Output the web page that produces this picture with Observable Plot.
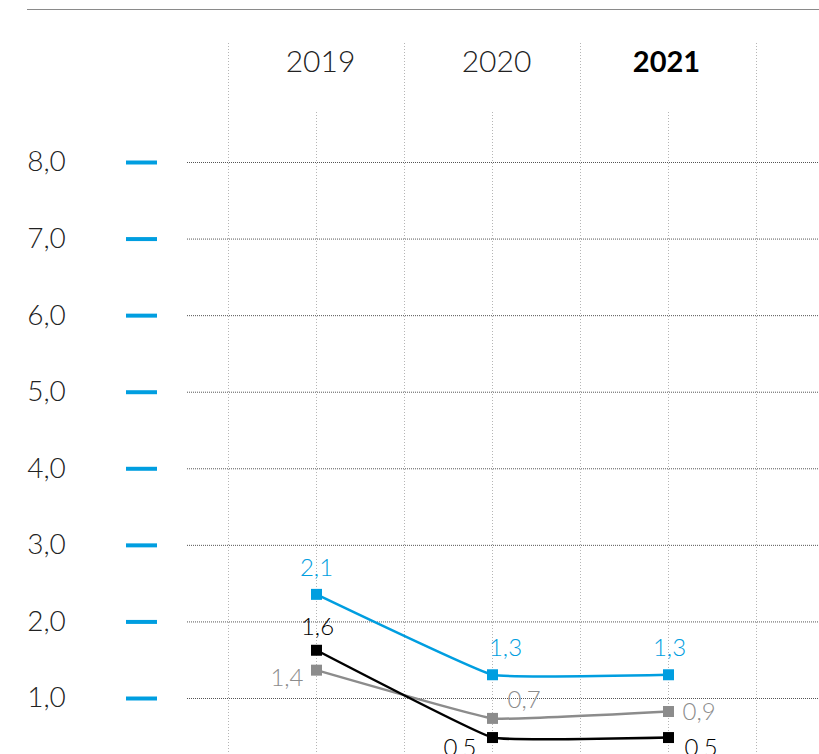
<!DOCTYPE html>
<html>
<head>
<meta charset="utf-8">
<script src="https://cdn.jsdelivr.net/npm/d3@7"></script>
<script src="https://cdn.jsdelivr.net/npm/@observablehq/plot@0.6"></script>
<style>
  body { margin: 0; background: #fff; }
  #wrap { position: relative; width: 819px; height: 754px; overflow: hidden; }
  #topline { position: absolute; left: 27px; right: 0; top: 9px; border-top: 1.5px solid #8a8a8a; }
  svg { font-family: "Lato", "Open Sans", sans-serif; font-weight: 300; }
</style>
</head>
<body>
<div id="wrap"><div id="topline"></div></div>
<script>
// Data
const years = [2019, 2020, 2021];
const boldYear = 2021;
const yTicks = [1, 2, 3, 4, 5, 6, 7, 8];
const seriesNames = ["blue", "gray", "black"];
// values as plotted in the reference
const blueValues = [2.36, 1.31, 1.31];
const grayValues = [1.37, 0.74, 0.83];
const blackValues = [1.63, 0.49, 0.49];
// labels as printed
const blueLabels = ["2,1", "1,3", "1,3"];
const grayLabels = ["1,4", "0,7", "0,9"];
const blackLabels = ["1,6", "0,5", "0,5"];

const colors = {blue: "#009ee0", gray: "#8c8c8c", black: "#000000"};
const valuesBy = {blue: blueValues, gray: grayValues, black: blackValues};
const labelsBy = {blue: blueLabels, gray: grayLabels, black: blackLabels};

const rows = seriesNames.flatMap(s => years.map((y, i) => ({
  series: s, year: y, value: valuesBy[s][i], label: labelsBy[s][i], i
})));

// label placements per series/point: [textAnchor, dx, dy]
const place = {
  blue:  [["middle", 0, -26], ["middle", 13, -26], ["middle", 1, -26]],
  gray:  [["end", -13, 8], ["start", 15, -18], ["start", 14, 1]],
  black: [["middle", 1, -23], ["end", -16, 11], ["start", 16, 11]]
};

const labelMarks = [];
for (const s of seriesNames) {
  rows.filter(r => r.series === s).forEach(r => {
    const [ta, dx, dy] = place[s][r.i];
    labelMarks.push(Plot.text([r], {
      x: "year", y: "value", text: "label",
      fill: colors[s], textAnchor: ta, dx, dy,
      fontSize: 24, fontWeight: 300, lineAnchor: "middle"
    }));
  });
}

const edges = [years[0] - 0.5, ...years.map(y => y + 0.5)];
const fmt = d => d.toFixed(1).replace(".", ",");

const chart = Plot.plot({
  width: 819,
  height: 754,
  margin: 0,
  style: {background: "transparent", fontFamily: "Lato, 'Open Sans', sans-serif"},
  x: {type: "linear", domain: [2019, 2021], range: [316, 668], axis: null},
  y: {type: "linear", domain: [1, 8], range: [698, 162], axis: null},
  marks: [
    // vertical dotted grid (band edges)
    Plot.ruleX(edges, {x: d => d, insetTop: 43, stroke: "#b5b5b5", strokeWidth: 1, strokeDasharray: "1,2"}),
    // short dotted guides through points
    Plot.ruleX(years, {x: d => d, insetTop: 112, stroke: "#b5b5b5", strokeWidth: 1, strokeDasharray: "1,2"}),
    // horizontal dotted gridlines
    Plot.ruleY(yTicks, {y: d => d, insetLeft: 187, stroke: "#555", strokeWidth: 1, strokeDasharray: "1,1"}),
    // blue tick dashes
    Plot.ruleY(yTicks, {y: d => d, insetLeft: 126, insetRight: 662, stroke: "#009ee0", strokeWidth: 4}),
    // y tick labels
    Plot.text(yTicks, {y: d => d, text: fmt, frameAnchor: "left", dx: 46, textAnchor: "middle",
      fontSize: 28, fontWeight: 300, fill: "#222"}),
    // year labels
    Plot.text(years.filter(y => y !== boldYear), {x: d => d, text: d => String(d), frameAnchor: "top", dy: 62,
      fontSize: 30, fontWeight: 300, fill: "#222", lineAnchor: "middle", dx: 4}),
    Plot.text([boldYear], {x: d => d, text: d => String(d), frameAnchor: "top", dy: 62,
      fontSize: 29, fontWeight: "bold", fill: "#000", lineAnchor: "middle", dx: -2}),
    // lines
    ...seriesNames.map(s => Plot.line(rows.filter(r => r.series === s), {
      x: "year", y: "value", stroke: colors[s], strokeWidth: 2.5, curve: "cardinal", tension: 0.75
    })),
    // square markers
    ...seriesNames.map(s => Plot.dot(rows.filter(r => r.series === s), {
      x: "year", y: "value", symbol: "square", r: 6.2, fill: colors[s], stroke: "none"
    })),
    ...labelMarks
  ]
});
document.getElementById("wrap").appendChild(chart);
chart.style.position = "absolute";
chart.style.left = "0";
chart.style.top = "0";
</script>
</body>
</html>
